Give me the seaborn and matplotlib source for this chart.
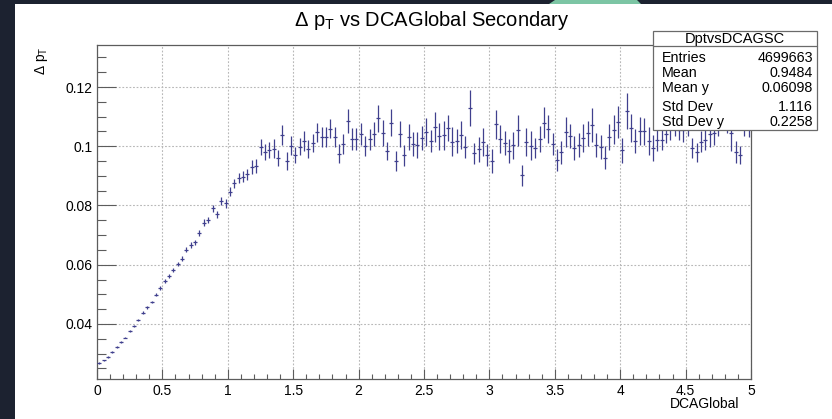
import numpy as np
import pandas as pd
import matplotlib
matplotlib.use("Agg")
import matplotlib.pyplot as plt
from matplotlib.patches import Rectangle, Polygon
from matplotlib.lines import Line2D
from matplotlib.ticker import MultipleLocator, FixedLocator, FixedFormatter
import seaborn as sns

# ---- profile of delta pT versus DCAGlobal (secondaries), 150 bins on [0, 5] ----
n_bins = 150
x_low, x_high = 0.0, 5.0

dpt_mean = [
    0.0268, 0.0277, 0.0288, 0.0305, 0.0321, 0.0340, 0.0354, 0.0377, 0.0393, 0.0414,
    0.0438, 0.0456, 0.0474, 0.0498, 0.0522, 0.0545, 0.0562, 0.0582, 0.0602, 0.0620,
    0.0651, 0.0667, 0.0676, 0.0706, 0.0742, 0.0751, 0.0790, 0.0771, 0.0816, 0.0807,
    0.0846, 0.0875, 0.0892, 0.0897, 0.0905, 0.0930, 0.0934, 0.0999, 0.0982, 0.0988,
    0.0992, 0.0959, 0.1038, 0.0950, 0.1002, 0.0971, 0.0999, 0.1017, 0.0990, 0.1011,
    0.1047, 0.1032, 0.1032, 0.1060, 0.1032, 0.0975, 0.1008, 0.1085, 0.1024, 0.1024,
    0.1042, 0.1001, 0.1024, 0.1041, 0.1095, 0.1044, 0.0984, 0.1080, 0.0951, 0.1041,
    0.0969, 0.1031, 0.1007, 0.1003, 0.1027, 0.1049, 0.1018, 0.1064, 0.1034, 0.1037,
    0.1061, 0.1015, 0.1018, 0.1037, 0.0998, 0.1129, 0.0976, 0.0990, 0.1015, 0.0971,
    0.0951, 0.1075, 0.1024, 0.1012, 0.0985, 0.1003, 0.1054, 0.0902, 0.1015, 0.1001,
    0.0995, 0.1024, 0.1080, 0.1058, 0.1007, 0.0954, 0.0979, 0.1049, 0.1035, 0.0993,
    0.1005, 0.1027, 0.1044, 0.1072, 0.1005, 0.0997, 0.0962, 0.1031, 0.1056, 0.1081,
    0.0986, 0.1120, 0.1061, 0.1018, 0.1052, 0.1050, 0.1018, 0.0994, 0.1022, 0.1022,
    0.1040, 0.1060, 0.1075, 0.1055, 0.1055, 0.1075, 0.0994, 0.0979, 0.1016, 0.1020,
    0.1040, 0.1045, 0.1075, 0.1100, 0.1085, 0.1045, 0.0980, 0.0971, 0.1075, 0.1070,
]

dpt_error = [
    0.0002, 0.0002, 0.0002, 0.0002, 0.0003, 0.0003, 0.0003, 0.0003, 0.0004, 0.0004,
    0.0004, 0.0005, 0.0005, 0.0005, 0.0006, 0.0006, 0.0006, 0.0007, 0.0007, 0.0008,
    0.0008, 0.0009, 0.0009, 0.0010, 0.0011, 0.0011, 0.0012, 0.0012, 0.0013, 0.0014,
    0.0015, 0.0016, 0.0017, 0.0018, 0.0019, 0.0022, 0.0024, 0.0027, 0.0027, 0.0027,
    0.0033, 0.0027, 0.0034, 0.0029, 0.0031, 0.0028, 0.0029, 0.0033, 0.0031, 0.0031,
    0.0033, 0.0033, 0.0034, 0.0033, 0.0034, 0.0031, 0.0034, 0.0040, 0.0038, 0.0037,
    0.0038, 0.0035, 0.0035, 0.0040, 0.0046, 0.0044, 0.0029, 0.0046, 0.0033, 0.0045,
    0.0036, 0.0044, 0.0041, 0.0044, 0.0040, 0.0047, 0.0037, 0.0051, 0.0045, 0.0049,
    0.0044, 0.0049, 0.0041, 0.0047, 0.0037, 0.0061, 0.0036, 0.0042, 0.0047, 0.0037,
    0.0040, 0.0049, 0.0048, 0.0040, 0.0040, 0.0045, 0.0053, 0.0036, 0.0048, 0.0049,
    0.0034, 0.0045, 0.0052, 0.0048, 0.0038, 0.0037, 0.0038, 0.0051, 0.0040, 0.0040,
    0.0041, 0.0048, 0.0043, 0.0057, 0.0040, 0.0040, 0.0038, 0.0044, 0.0049, 0.0054,
    0.0042, 0.0060, 0.0047, 0.0042, 0.0048, 0.0045, 0.0048, 0.0045, 0.0037, 0.0034,
    0.0030, 0.0038, 0.0042, 0.0033, 0.0039, 0.0042, 0.0034, 0.0031, 0.0034, 0.0034,
    0.0041, 0.0040, 0.0042, 0.0040, 0.0041, 0.0060, 0.0037, 0.0031, 0.0042, 0.0040,
]

x_tick_values = [0, 0.5, 1, 1.5, 2, 2.5, 3, 3.5, 4, 4.5, 5]
x_tick_labels = ["0", "0.5", "1", "1.5", "2", "2.5", "3", "3.5", "4", "4.5", "5"]
y_tick_values = [0.04, 0.06, 0.08, 0.10, 0.12]
y_tick_labels = ["0.04", "0.06", "0.08", "0.1", "0.12"]

stats_title = "DptvsDCAGSC"
stats_names = ["Entries", "Mean", "Mean y", "Std Dev", "Std Dev y"]
stats_values = ["4699663", "0.9484", "0.06098", "1.116", "0.2258"]

plot_title = r"Δ p$_{\mathrm{T}}$ vs DCAGlobal Secondary"
x_title = "DCAGlobal"
y_title = r"Δ p$_{\mathrm{T}}$"

# ---- build the table of bins ----
edges = np.linspace(x_low, x_high, n_bins + 1)
df = pd.DataFrame({
    "DCAGlobal": 0.5 * (edges[:-1] + edges[1:]),
    "dpt": dpt_mean,
    "err": dpt_error,
})

# ---- style ----
sns.set_theme(style="white")
plt.rcParams["font.family"] = ["Liberation Sans", "DejaVu Sans"]
plt.rcParams["mathtext.fontset"] = "custom"
plt.rcParams["mathtext.rm"] = "Liberation Sans"
plt.rcParams["mathtext.it"] = "Liberation Sans:italic"
plt.rcParams["mathtext.bf"] = "Liberation Sans:bold"

W, H = 832, 419
FRAME = "#5c5c5c"
MARK = "#40408e"


def fx(px):
    return px / W


def fy(py):
    return 1 - py / H


fig = plt.figure(figsize=(W / 100, H / 100), dpi=100, facecolor="#1c2230")

# white canvas and the small accent strip along the top edge
fig.patches.append(Rectangle((fx(15), 0), 1 - fx(15), fy(4), transform=fig.transFigure,
                             facecolor="white", edgecolor="none", zorder=-2))
fig.patches.append(Polygon([(fx(549), fy(4)), (fx(555), fy(0)), (fx(637), fy(0)), (fx(641), fy(4))],
                           closed=True, transform=fig.transFigure,
                           facecolor="#7cc5a4", edgecolor="none", zorder=-2))

ax = fig.add_axes([fx(97), fy(379), fx(751) - fx(97), fy(45) - fy(379)])
ax.set_facecolor("white")

# vertical error bars, then the bin marks drawn by seaborn
ax.errorbar(df["DCAGlobal"], df["dpt"], yerr=df["err"], fmt="none",
            ecolor=MARK, elinewidth=0.9, capsize=0, zorder=3)
sns.scatterplot(data=df, x="DCAGlobal", y="dpt", marker="_", s=8,
                color=MARK, linewidth=0.9, ax=ax, zorder=4, legend=False)

ax.set_xlim(x_low, x_high)
ax.set_ylim(0.0214, 0.1342)

ax.xaxis.set_major_locator(FixedLocator(x_tick_values))
ax.xaxis.set_major_formatter(FixedFormatter(x_tick_labels))
ax.xaxis.set_minor_locator(MultipleLocator(0.1))
ax.yaxis.set_major_locator(FixedLocator(y_tick_values))
ax.yaxis.set_major_formatter(FixedFormatter(y_tick_labels))
ax.yaxis.set_minor_locator(MultipleLocator(0.005))

ax.tick_params(axis="x", which="major", direction="in", length=7.2, width=0.8,
               color=FRAME, labelsize=10, labelcolor="black", pad=3.5,
               bottom=True, top=False)
ax.tick_params(axis="x", which="minor", direction="in", length=3.6, width=0.8,
               color=FRAME, bottom=True, top=False)
ax.tick_params(axis="y", which="major", direction="in", length=13.7, width=0.8,
               color=FRAME, labelsize=10, labelcolor="black", pad=3,
               left=True, right=False)
ax.tick_params(axis="y", which="minor", direction="in", length=6.5, width=0.8,
               color=FRAME, left=True, right=False)

ax.grid(True, which="major", color="#b8b8b8", linewidth=0.8, linestyle=(0, (1.6, 1.6)))
ax.set_axisbelow(True)
for side in ax.spines.values():
    side.set_visible(True)
    side.set_color(FRAME)
    side.set_linewidth(0.9)

ax.set_xlabel("")
ax.set_ylabel("")

# titles
fig.text(fx(432), fy(26), plot_title, ha="center", va="baseline", fontsize=14.5, color="black")
fig.text(fx(739), fy(408), x_title, ha="right", va="baseline", fontsize=10, color="black")
fig.text(fx(42), fy(46), y_title, ha="center", va="top", rotation=90, fontsize=10, color="black")

# statistics box
bx0, by0, bx1, by1 = 653, 31.5, 817, 130.5
fig.patches.append(Rectangle((fx(bx0), fy(by1)), fx(bx1) - fx(bx0), fy(by0) - fy(by1),
                             transform=fig.transFigure, facecolor="white",
                             edgecolor="#6a6a6a", linewidth=0.9, zorder=5))
fig.lines.append(Line2D([fx(bx0), fx(bx1)], [fy(46.3), fy(46.3)], transform=fig.transFigure,
                        color="#6a6a6a", linewidth=0.9, zorder=6))
fig.text(fx((bx0 + bx1) / 2), fy(43), stats_title, ha="center", va="baseline",
         fontsize=10.5, color="black", zorder=7)
row_baselines = [61.5, 76.8, 92.3, 110.8, 125.5]
for name, value, yb in zip(stats_names, stats_values, row_baselines):
    fig.text(fx(661.5), fy(yb), name, ha="left", va="baseline", fontsize=10.3, color="black", zorder=7)
    fig.text(fx(813), fy(yb), value, ha="right", va="baseline", fontsize=10.3, color="black", zorder=7)

fig.savefig("out.png", dpi=100, facecolor=fig.get_facecolor())
